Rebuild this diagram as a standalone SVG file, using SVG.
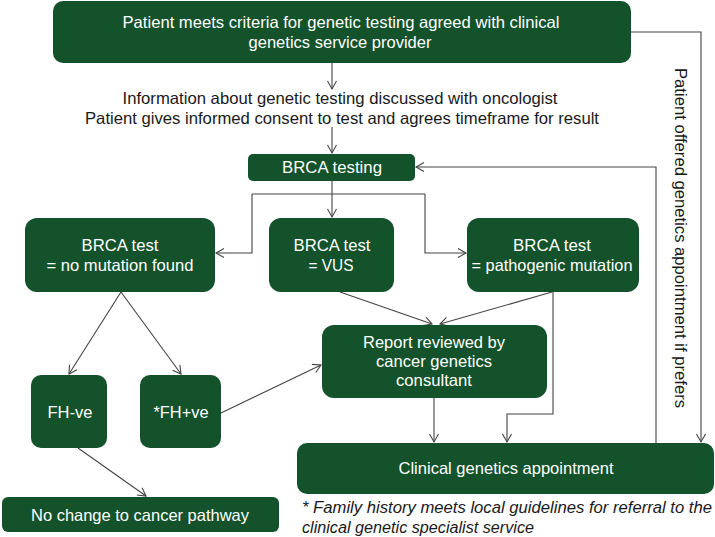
<svg xmlns="http://www.w3.org/2000/svg" width="715" height="537" viewBox="0 0 715 537">
<style>
.box{fill:#13522b;}
.t{font-family:"Liberation Sans",Arial,sans-serif;font-size:16.5px;fill:#ffffff;text-anchor:middle;}
.b{font-family:"Liberation Sans",Arial,sans-serif;font-size:16.5px;fill:#1a1a1a;text-anchor:middle;}
.fn{font-family:"Liberation Sans",Arial,sans-serif;font-size:16px;font-style:italic;fill:#1a1a1a;}
.c{fill:none;stroke:#444;stroke-width:1.1;}
.a{marker-end:url(#arr);}
</style>
<defs>
<marker id="arr" markerUnits="userSpaceOnUse" markerWidth="12" markerHeight="12" refX="9" refY="5" orient="auto">
<path d="M1,0.5 L9,5 L1,9.5" fill="none" stroke="#444" stroke-width="1.1"/>
</marker>
</defs>
<g id="connectors">
<path class="c a" d="M332,63 V89"/>
<path class="c a" d="M332,127 V153"/>
<path class="c a" d="M332,181 V217"/>
<path class="c" d="M252,194 H425"/>
<path class="c a" d="M252,194 V253 H216"/>
<path class="c a" d="M425,194 V253 H466"/>
<path class="c a" d="M121,292 L69,374"/>
<path class="c a" d="M121,292 L181,374"/>
<path class="c a" d="M340,292 L432,324"/>
<path class="c a" d="M552,292 L440,324"/>
<path class="c a" d="M553,292 V414 H507 V442"/>
<path class="c a" d="M434,398 V442"/>
<path class="c a" d="M221,413 L321,365"/>
<path class="c a" d="M78,448 L146,496"/>
<path class="c a" d="M656,443 V167 H416"/>
<path class="c a" d="M631,32 H701 V442"/>
</g>
<g id="n-criteria">
<rect class="box" x="53" y="1" width="578" height="62" rx="10"/>
<text class="t" x="341" y="28" textLength="437" lengthAdjust="spacingAndGlyphs">Patient meets criteria for genetic testing agreed with clinical</text>
<text class="t" x="340" y="48" textLength="183" lengthAdjust="spacingAndGlyphs">genetics service provider</text>
</g>
<g id="n-info">
<text class="b" x="340" y="104" textLength="435" lengthAdjust="spacingAndGlyphs">Information about genetic testing discussed with oncologist</text>
<text class="b" x="342" y="124" textLength="514" lengthAdjust="spacingAndGlyphs">Patient gives informed consent to test and agrees timeframe for result</text>
</g>
<g id="n-testing">
<rect class="box" x="248" y="154" width="167" height="27" rx="5"/>
<text class="t" x="332" y="173" textLength="100" lengthAdjust="spacingAndGlyphs">BRCA testing</text>
</g>
<g id="n-nomut">
<rect class="box" x="25" y="218" width="190" height="74" rx="12"/>
<text class="t" x="120" y="251" textLength="77" lengthAdjust="spacingAndGlyphs">BRCA test</text>
<text class="t" x="120" y="271" textLength="147" lengthAdjust="spacingAndGlyphs">= no mutation found</text>
</g>
<g id="n-vus">
<rect class="box" x="269" y="218" width="125" height="74" rx="12"/>
<text class="t" x="332" y="251" textLength="77" lengthAdjust="spacingAndGlyphs">BRCA test</text>
<text class="t" x="331" y="271" textLength="45" lengthAdjust="spacingAndGlyphs">= VUS</text>
</g>
<g id="n-patho">
<rect class="box" x="467" y="218" width="172" height="74" rx="12"/>
<text class="t" x="552" y="251" textLength="78" lengthAdjust="spacingAndGlyphs">BRCA test</text>
<text class="t" x="552" y="271" textLength="161" lengthAdjust="spacingAndGlyphs">= pathogenic mutation</text>
</g>
<g id="n-report">
<rect class="box" x="322" y="325" width="225" height="73" rx="12"/>
<text class="t" x="434" y="348" textLength="142" lengthAdjust="spacingAndGlyphs">Report reviewed by</text>
<text class="t" x="434" y="367" textLength="116" lengthAdjust="spacingAndGlyphs">cancer genetics</text>
<text class="t" x="434" y="386" textLength="76" lengthAdjust="spacingAndGlyphs">consultant</text>
</g>
<g id="n-fhneg">
<rect class="box" x="31" y="375" width="76" height="73" rx="10"/>
<text class="t" x="70" y="418" textLength="45" lengthAdjust="spacingAndGlyphs">FH-ve</text>
</g>
<g id="n-fhpos">
<rect class="box" x="140" y="375" width="81" height="73" rx="10"/>
<text class="t" x="181" y="418" textLength="55" lengthAdjust="spacingAndGlyphs">*FH+ve</text>
</g>
<g id="n-clinical">
<rect class="box" x="297" y="443" width="417" height="51" rx="10"/>
<text class="t" x="506" y="474" textLength="215" lengthAdjust="spacingAndGlyphs">Clinical genetics appointment</text>
</g>
<g id="n-nochange">
<rect class="box" x="2" y="497" width="277" height="35" rx="6"/>
<text class="t" x="140" y="521" textLength="218" lengthAdjust="spacingAndGlyphs">No change to cancer pathway</text>
</g>
<g id="n-offered">
<text class="b" x="675" y="238" transform="rotate(90 675 238)" style="font-size:16px" textLength="340" lengthAdjust="spacingAndGlyphs">Patient offered genetics appointment if prefers</text>
</g>
<g id="footnote">
<text class="fn" x="302" y="513" textLength="410" lengthAdjust="spacingAndGlyphs">* Family history meets local guidelines for referral to the</text>
<text class="fn" x="302" y="533" textLength="232" lengthAdjust="spacingAndGlyphs">clinical genetic specialist service</text>
</g>
</svg>
